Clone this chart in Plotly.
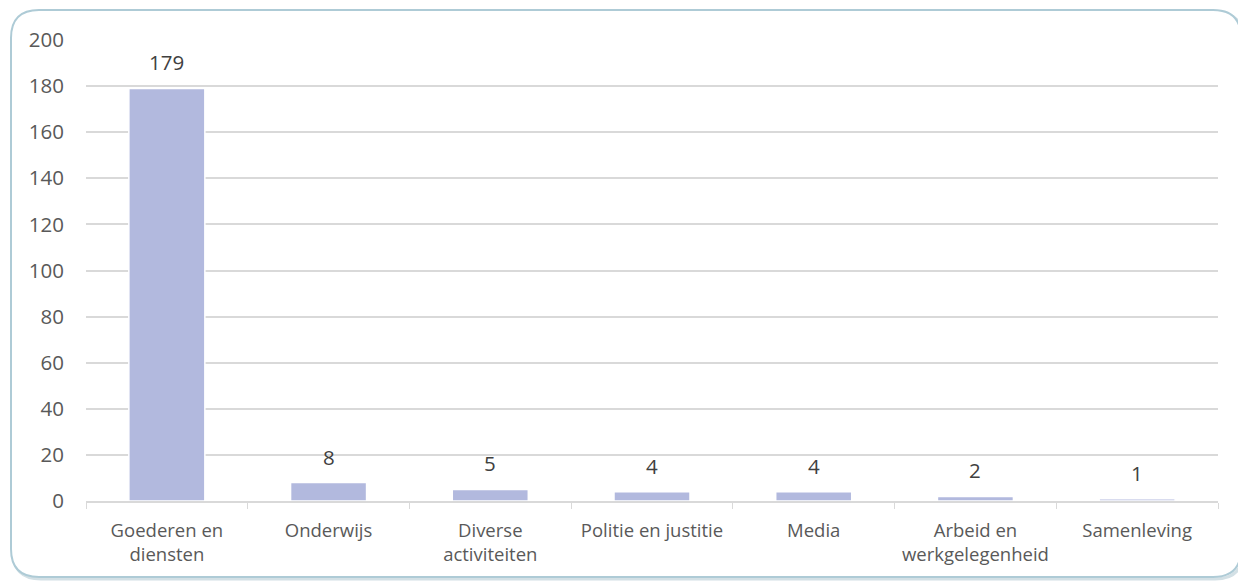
import plotly.graph_objects as go

categories = ["Goederen en<br>diensten", "Onderwijs", "Diverse<br>activiteiten",
              "Politie en justitie", "Media", "Arbeid en<br>werkgelegenheid", "Samenleving"]
values = [179, 8, 5, 4, 4, 2, 1]
y_ticks = [0, 20, 40, 60, 80, 100, 120, 140, 160, 180, 200]

# page has an 8px body margin; figure coordinates = page - 8
W, H = 1238, 576
L, R, T, B = 78, 28, 32, 83
pw, ph = W - L - R, H - T - B

def px(x):
    return (x - L) / pw

def py(y):
    return (H - B - y) / ph

def rounded(x0, y0, x1, y1, r):
    return (f"M {px(x0 + r)},{py(y0)} L {px(x1 - r)},{py(y0)} "
            f"Q {px(x1)},{py(y0)} {px(x1)},{py(y0 + r)} "
            f"L {px(x1)},{py(y1 - r)} Q {px(x1)},{py(y1)} {px(x1 - r)},{py(y1)} "
            f"L {px(x0 + r)},{py(y1)} Q {px(x0)},{py(y1)} {px(x0)},{py(y1 - r)} "
            f"L {px(x0)},{py(y0 + r)} Q {px(x0)},{py(y0)} {px(x0 + r)},{py(y0)} Z")

fig = go.Figure()
fig.add_trace(go.Bar(
    x=categories, y=values,
    marker=dict(color="#b2b9de", line=dict(color="white", width=1.5)),
    width=0.47, hoverinfo="skip",
))

for c, v in zip(categories, values):
    fig.add_annotation(x=c, y=v, text=str(v), showarrow=False, yanchor="bottom",
                       yshift=10, font=dict(size=20.5, color="#404040"))

# shadow + rounded border
fig.add_shape(type="path", path=rounded(5, 4, 1235, 571, 28), xref="paper", yref="paper",
              line=dict(color="#d3e0e5", width=3), layer="below")
fig.add_shape(type="path", path=rounded(3, 2, 1233, 569, 28), xref="paper", yref="paper",
              line=dict(color="#aecbd6", width=2), fillcolor="white", layer="below")

fig.update_layout(
    width=W, height=H,
    margin=dict(l=L, r=R, t=T, b=B),
    paper_bgcolor="white", plot_bgcolor="rgba(0,0,0,0)",
    showlegend=False,
    font=dict(family="Open Sans", color="#595959", size=18.5),
    xaxis=dict(showgrid=False, showline=True, linecolor="#d9d9d9", linewidth=1.5,
               ticks="outside", tickson="boundaries", tickcolor="#d9d9d9",
               ticklen=6, tickfont=dict(size=18.5, color="#595959"),
               ticklabelstandoff=12),
    yaxis=dict(range=[0, 200], tickvals=y_ticks, showgrid=True, gridcolor="#d9d9d9",
               gridwidth=1.5, zeroline=False, showline=False,
               tickfont=dict(size=20.5, color="#595959"), ticklabelstandoff=21),
)

fig.write_html("out.html")
